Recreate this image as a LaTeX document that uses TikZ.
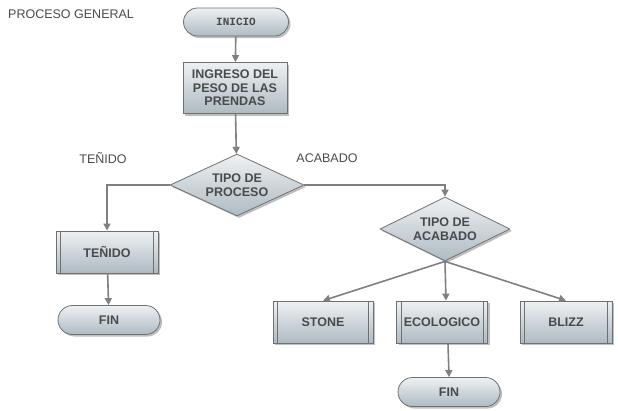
\documentclass[tikz,border=0pt]{standalone}
\usepackage{fontspec}
\setmainfont{Liberation Sans}
\newfontfamily\monofnt{Liberation Mono}
\usetikzlibrary{shapes.geometric,shapes.misc,shadows,arrows.meta,calc}
\definecolor{txt}{HTML}{4A4A4A}
\definecolor{edge}{HTML}{808080}
\definecolor{bord}{HTML}{707070}
\definecolor{ftop}{HTML}{EEF1F3}
\definecolor{fbot}{HTML}{AEBAC2}
\tikzset{
  base/.style={draw=bord, line width=0.8pt, top color=ftop, bottom color=fbot,
    text=txt, font=\fontsize{12.5}{13.5}\selectfont\bfseries, align=center,
    drop shadow={shadow xshift=2pt, shadow yshift=-2pt, opacity=0.25, fill=black}},
  pill/.style={base, rounded rectangle, minimum width=102pt, minimum height=29pt, inner sep=0pt},
  procbox/.style={base, rectangle, minimum width=104pt, minimum height=51pt, inner sep=1pt},
  subbox/.style={base, rectangle, minimum height=42pt, inner sep=0pt,
    append after command={
      \pgfextra{\let\mynode\tikzlastnode}
      ($(\mynode.north west)+(5pt,0)$) edge[draw=bord, line width=0.7pt, -] ($(\mynode.south west)+(5pt,0)$)
      ($(\mynode.north east)+(-5pt,0)$) edge[draw=bord, line width=0.7pt, -] ($(\mynode.south east)+(-5pt,0)$)
    }},
  decision/.style={base, diamond, aspect=2.1, inner sep=0pt, minimum width=134pt, minimum height=62pt},
  flow/.style={draw=edge, line width=1.6pt, -{Triangle[length=7pt,width=7pt]}},
  lbl/.style={text=txt, font=\fontsize{12.5}{13.5}\selectfont, inner sep=0pt}
}
\begin{document}
\begin{tikzpicture}[x=1pt,y=-1pt]
\useasboundingbox (0,0) rectangle (618,410);
\node[lbl, anchor=west] (title) at (8,14) {PROCESO GENERAL};
\node[pill, minimum width=105pt, minimum height=28pt, font=\monofnt\fontsize{11}{12}\selectfont\bfseries] (inicio) at (236,22) {INICIO};
\node[procbox] (ingreso) at (235,88) {INGRESO DEL\\PESO DE LAS\\PRENDAS};
\node[decision] (proceso) at (237,185) {TIPO DE\\PROCESO};
\node[lbl] (ltenido) at (103,158) {TEÑIDO};
\node[lbl] (lacabado) at (327,158) {ACABADO};
\node[subbox, minimum width=102pt] (tenido) at (107,252) {TEÑIDO};
\node[pill] (fin1) at (109,320) {FIN};
\node[decision, minimum width=130pt, minimum height=64pt] (acabado) at (445,229) {TIPO DE\\ACABADO};
\node[subbox, minimum width=100pt] (stone) at (323,322) {STONE};
\node[subbox, minimum width=91pt] (eco) at (442,322) {ECOLOGICO};
\node[subbox, minimum width=92pt] (blizz) at (566,322) {BLIZZ};
\node[pill] (fin2) at (449,392) {FIN};
\draw[flow] (inicio) -- (ingreso);
\draw[flow] (ingreso) -- (proceso);
\draw[flow] (proceso.west) -| (tenido.north);
\draw[flow] (proceso.east) -| (acabado.north);
\draw[flow] (tenido) -- (fin1);
\draw[flow] (acabado.south) -- (stone.north);
\draw[flow] (acabado.south) -- ($(eco.north)+(4,0)$);
\draw[flow] (acabado.south) -- (blizz.north);
\draw[flow] ($(eco.south)+(6,0)$) -- ($(fin2.north)$);
\end{tikzpicture}
\end{document}
